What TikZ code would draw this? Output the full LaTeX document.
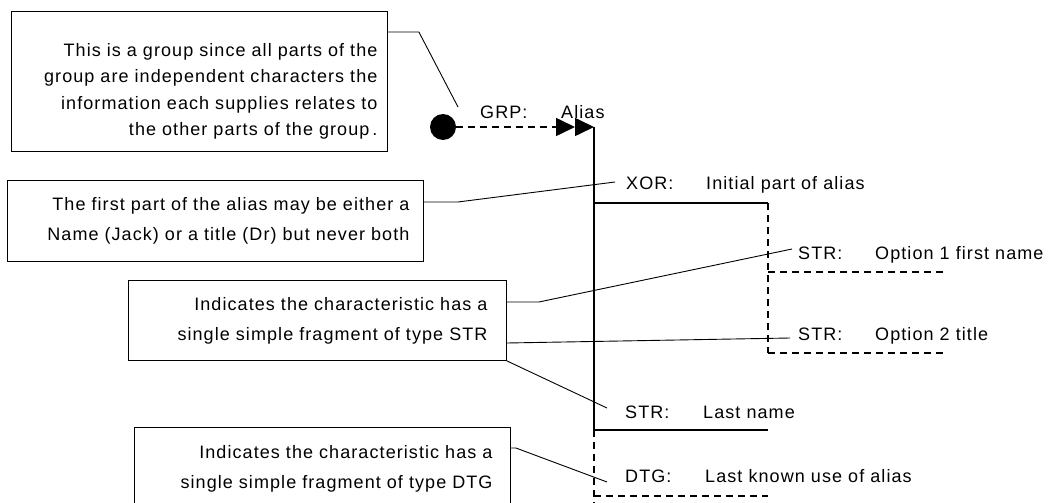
\documentclass[tikz,border=0pt]{standalone}
\usepackage{fontspec}
\setmainfont{Liberation Sans}[LetterSpace=6]
\usetikzlibrary{calc,arrows.meta}

\begin{document}
\begin{tikzpicture}[x=1pt,y=-1pt,
  note/.style={draw, line width=0.9pt, anchor=north west, align=right,
    inner xsep=0pt, inner ysep=0pt},
  tag/.style={anchor=base west, inner sep=0pt, font=\fontsize{18}{22}\selectfont},
  callout/.style={line width=0.9pt},
  trunk/.style={line width=2pt},
  optline/.style={line width=2pt, dash pattern=on 7pt off 5pt},
  grouptip/.style={-{Triangle[length=19pt,width=18pt,sep=0pt]Triangle[length=19pt,width=18pt]}},
]
\useasboundingbox (0,0) rectangle (1052,503);
\clip (0,0) rectangle (1052,503);

% explanatory notes
\node[note, minimum width=376, minimum height=140, text width=356,
      font=\fontsize{18}{26.5}\selectfont] (n1) at (11,11)
  {\rule{0pt}{33pt}This is a group since all parts of the\\
   group are independent characters the\\
   information each supplies relates to\\
   the other parts of the group\,.};
\node[note, minimum width=416, minimum height=81, text width=388,
      font=\fontsize{18}{30}\selectfont] (n2) at (7,180)
  {The first part of the alias may be either a\\
   Name (Jack) or a title (Dr) but never both};
\node[note, minimum width=378, minimum height=80, text width=340,
      font=\fontsize{18}{30}\selectfont] (n3) at (128,280)
  {Indicates the characteristic has a\\
   single simple fragment of type STR};
\node[note, minimum width=376, minimum height=82, text width=340,
      font=\fontsize{18}{30}\selectfont] (n4) at (134,427)
  {Indicates the characteristic has a\\
   single simple fragment of type DTG};

% structure labels
\node[tag] (grp) at (480,118) {\makebox[81pt][l]{GRP:}Alias};
\node[tag] (xor) at (626,189) {\makebox[80pt][l]{XOR:}Initial part of alias};
\node[tag] (opt1) at (798,259) {\makebox[77pt][l]{STR:}Option 1 first name};
\node[tag] (opt2) at (798,340) {\makebox[77pt][l]{STR:}Option 2 title};
\node[tag] (last) at (625,418) {\makebox[78pt][l]{STR:}Last name};
\node[tag] (dtg) at (625,482) {\makebox[80pt][l]{DTG:}Last known use of alias};

% group start marker and entry arrow
\node[circle, fill=black, inner sep=0pt, minimum size=26] (dot) at (443,127) {};
\coordinate (root) at (594,127);
\draw[line width=1.6pt, dash pattern=on 7pt off 5pt, grouptip] (dot) -- (root);

% structure tree
\coordinate (xorj) at (594,203);
\coordinate (xore) at (768,203);
\coordinate (o1j) at (768,272);
\coordinate (o1e) at (945,272);
\coordinate (o2j) at (768,353);
\coordinate (o2e) at (945,353);
\coordinate (lastj) at (594,430);
\coordinate (laste) at (768,430);
\coordinate (dtgj) at (594,496);
\coordinate (dtge) at (768,496);
\coordinate (foot) at (594,503);

\draw[trunk] (root) -- (lastj);
\draw[optline] (lastj) -- (foot);
\draw[trunk] (xorj) -- (xore);
\draw[optline] (xore) -- (o2j);
\draw[optline] (o1j) -- (o1e);
\draw[optline] (o2j) -- (o2e);
\draw[trunk] (lastj) -- (laste);
\draw[optline] (dtgj) -- (dtge);

% callout leaders
\draw[callout] ($(n1.north east)+(0,21)$) -- ++(31,0) -- ($(grp.base west)+(-22,-11)$);
\draw[callout] ($(n2.north east)+(0,22)$) -- ++(34,0) -- ($(xor.base west)+(-11,-7)$);
\draw[callout] ($(n3.north east)+(0,22)$) -- ++(32,0) -- ($(opt1.base west)+(-6,-10)$);
\draw[callout] ($(n3.north east)+(0,63)$) -- ($(opt2.base west)+(-8,-2)$);
\draw[callout] (n3.south east) -- ($(last.base west)+(-18,-10)$);
\draw[callout] ($(n4.north east)+(0,21)$) -- ++(5,0) -- ($(dtg.base west)+(-18,0)$);
\end{tikzpicture}
\end{document}
